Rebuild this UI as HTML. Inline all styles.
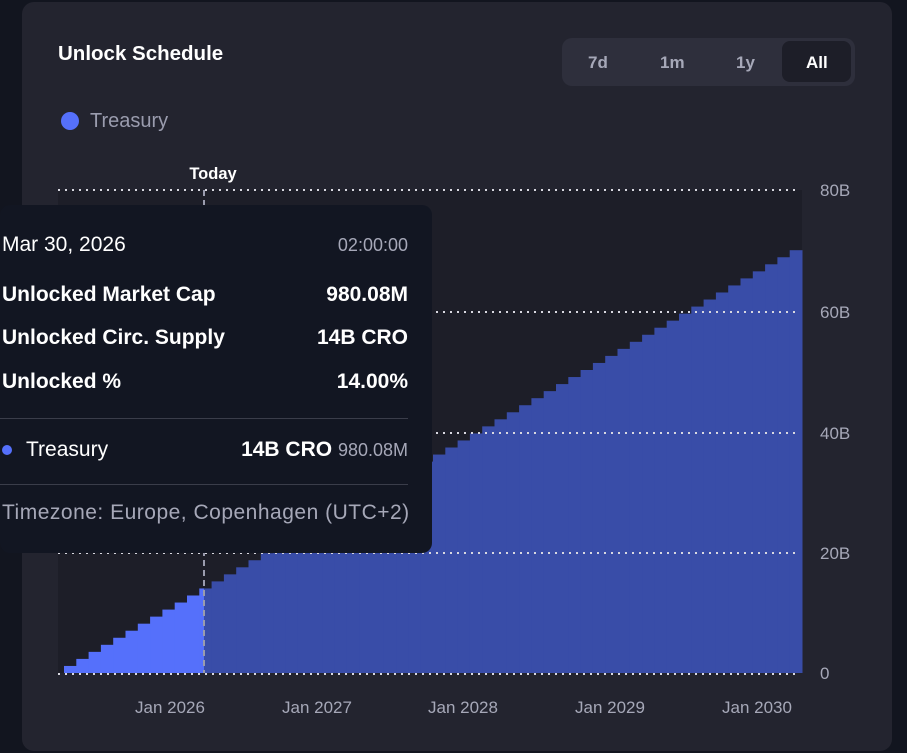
<!DOCTYPE html>
<html><head><meta charset="utf-8"><style>
body{margin:0;width:907px;height:753px;background:#12151f;overflow:hidden;font-family:"Liberation Sans",sans-serif;position:relative}
.card{position:absolute;left:22px;top:2px;width:870px;height:749px;background:#23242f;border-radius:12px}
.t{position:absolute;color:#fff}
.tog{position:absolute;left:562px;top:38px;width:293px;height:48px;background:#2e2f3c;border-radius:10px}
.tog span{position:absolute;top:15px;font-size:17px;color:#a6a8b8;font-weight:bold}
.all{position:absolute;left:220px;top:3px;width:69px;height:41px;background:#1d1e28;border-radius:8px}
.tip{position:absolute;left:0;top:205px;width:432px;height:348px;background:#121622;border-radius:10px}
.tip div{position:absolute;font-size:21px;color:#fff;white-space:nowrap}
.r{right:24px;text-align:right}
.hr{position:absolute;left:0;width:408px;height:1px;background:#3a3d4a}
</style></head><body>
<div class="card"></div>
<div class="t" style="left:58px;top:42px;font-size:20.5px;font-weight:bold">Unlock Schedule</div>
<div class="tog"><span style="left:26px">7d</span><span style="left:98px">1m</span><span style="left:174px">1y</span><div class="all"></div><span style="left:244px;color:#fff">All</span></div>
<div style="position:absolute;left:61px;top:112px;width:18px;height:18px;border-radius:50%;background:#5570fb"></div>
<div class="t" style="left:90px;top:110px;font-size:20px;color:#9a9cae">Treasury</div>
<svg width="907" height="753" style="position:absolute;left:0;top:0" id="s">
<rect x="58" y="190" width="744" height="483" fill="#1d1e28"/>
<g id="bars"></g>
<g stroke="#d8d8e0" stroke-width="2" stroke-dasharray="2 5">
<line x1="58" y1="190" x2="800" y2="190"/><line x1="58" y1="312" x2="800" y2="312"/><line x1="58" y1="433" x2="800" y2="433"/><line x1="58" y1="553" x2="800" y2="553"/><line x1="58" y1="674" x2="800" y2="674"/></g>
<line x1="204" y1="190" x2="204" y2="673" stroke="#9a9cae" stroke-width="2" stroke-dasharray="6 4"/>
<g font-size="17" fill="#a6a8b8" font-family="Liberation Sans">
<text x="820" y="196">80B</text><text x="820" y="318">60B</text><text x="820" y="439">40B</text><text x="820" y="559">20B</text><text x="820" y="679">0</text>
<text x="170" y="713" text-anchor="middle">Jan 2026</text><text x="317" y="713" text-anchor="middle">Jan 2027</text><text x="463" y="713" text-anchor="middle">Jan 2028</text><text x="610" y="713" text-anchor="middle">Jan 2029</text><text x="757" y="713" text-anchor="middle">Jan 2030</text></g>
<text x="213" y="179" font-size="16.5" font-weight="bold" fill="#fff" text-anchor="middle" font-family="Liberation Sans">Today</text>
</svg>
<script>
var g=document.getElementById('bars'),h='';
for(var k=1;k<=60;k++){var x0=64+(k-1)*12.3,x1=64+k*12.3;if(k==60)x1=802;var y=673-(7/6*k)*6.04;
if(x1<=204)h+='<rect x="'+x0+'" y="'+y+'" width="'+(x1-x0+0.5)+'" height="'+(673-y)+'" fill="#5570fb"/>';
else if(x0>=204)h+='<rect x="'+x0+'" y="'+y+'" width="'+(x1-x0+0.5)+'" height="'+(673-y)+'" fill="#394da8"/>';
else{h+='<rect x="'+x0+'" y="'+y+'" width="'+(204-x0)+'" height="'+(673-y)+'" fill="#5570fb"/>';h+='<rect x="204" y="'+y+'" width="'+(x1-204+0.5)+'" height="'+(673-y)+'" fill="#394da8"/>';}}
g.innerHTML=h;
</script>
<div class="tip">
<div style="left:2px;top:28px">Mar 30, 2026</div><div class="r" style="top:30px;font-size:18px;color:#a6a8b8">02:00:00</div>
<div style="left:2px;top:78px;font-weight:bold">Unlocked Market Cap</div><div class="r" style="top:78px;font-weight:bold">980.08M</div>
<div style="left:2px;top:121px;font-weight:bold">Unlocked Circ. Supply</div><div class="r" style="top:121px;font-weight:bold">14B CRO</div>
<div style="left:2px;top:165px;font-weight:bold">Unlocked %</div><div class="r" style="top:165px;font-weight:bold">14.00%</div>
<span class="hr" style="top:213px"></span>
<span style="position:absolute;left:2px;top:240px;width:10px;height:10px;border-radius:50%;background:#5570fb"></span>
<div style="left:26px;top:233px">Treasury</div><div class="r" style="top:233px"><b>14B CRO</b> <span style="font-size:18px;color:#a6a8b8">980.08M</span></div>
<span class="hr" style="top:279px"></span>
<div style="left:2px;top:296px;color:#a6a8b8;letter-spacing:0.5px">Timezone: Europe, Copenhagen (UTC+2)</div>
</div>
</body></html>
